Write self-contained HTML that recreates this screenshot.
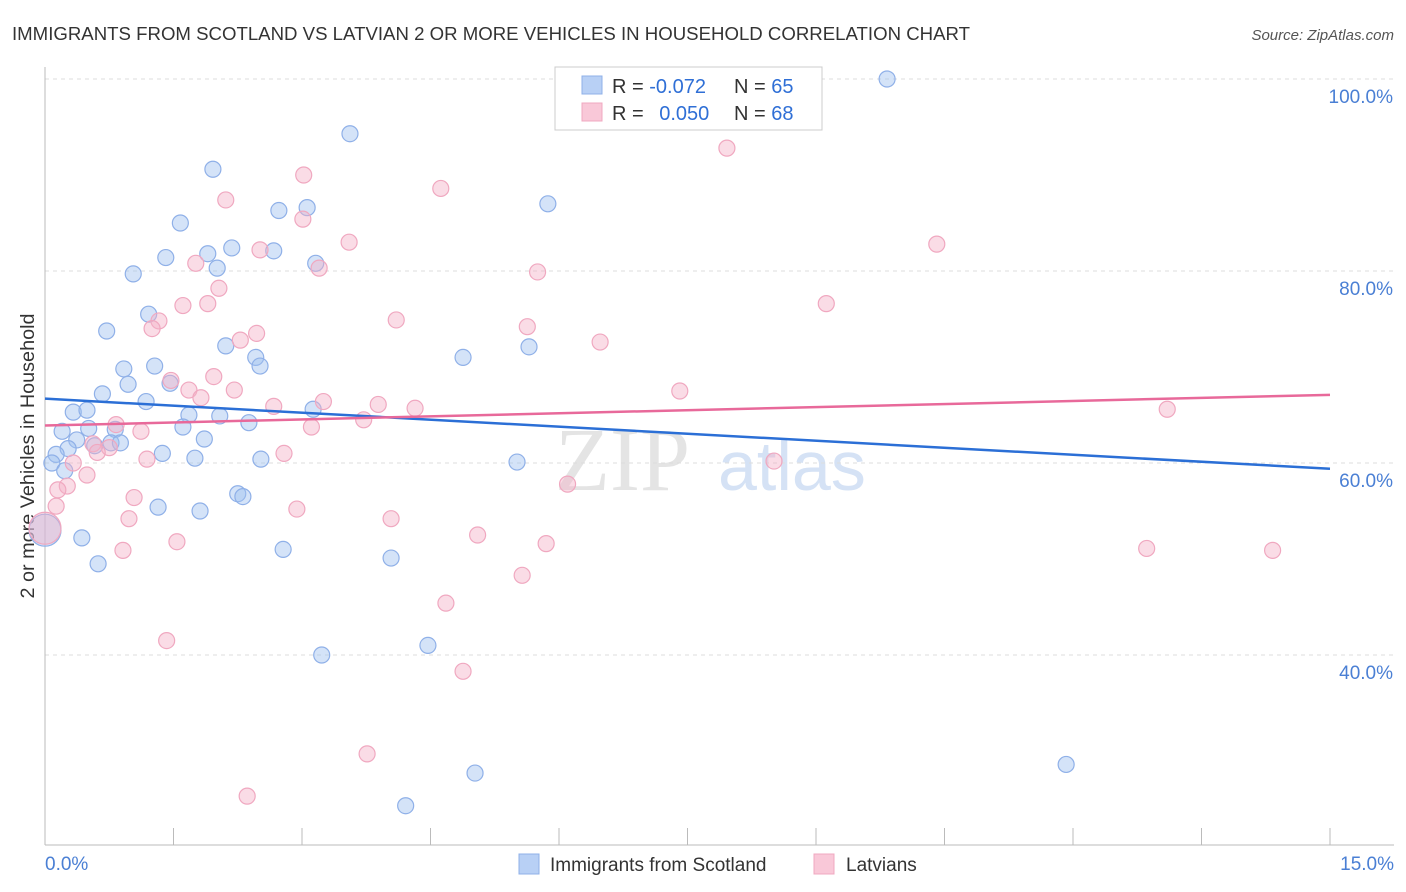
<!DOCTYPE html>
<html><head><meta charset="utf-8">
<style>
body{margin:0;background:#fff;font-family:"Liberation Sans",sans-serif;}
#wrap{position:relative;width:1406px;height:892px;overflow:hidden;}
</style></head>
<body>
<div id="wrap">
<svg id="svg" width="1406" height="892" xmlns="http://www.w3.org/2000/svg">
<text x="12" y="40" font-size="18" fill="#333" textLength="958" lengthAdjust="spacingAndGlyphs">IMMIGRANTS FROM SCOTLAND VS LATVIAN 2 OR MORE VEHICLES IN HOUSEHOLD CORRELATION CHART</text>
<text x="1394" y="40" font-size="15" fill="#555" text-anchor="end" font-style="italic">Source: ZipAtlas.com</text>
<text x="34" y="456" font-size="19" fill="#333" text-anchor="middle" textLength="285" lengthAdjust="spacingAndGlyphs" transform="rotate(-90 34 456)">2 or more Vehicles in Household</text>
<text x="555" y="490" font-size="90" fill="#e4e4e4" font-family="Liberation Serif,serif">ZIP</text>
<text x="718" y="490" font-size="70" fill="#d5e2f5">atlas</text>
<g id="grid"></g><g id="ticks"></g><g id="pts"></g><g id="lines"></g>
<g>
<rect x="555" y="67" width="267" height="63" fill="#fff" stroke="#ccc"/>
<rect x="582" y="76" width="20" height="18" fill="#b8d0f5" stroke="#8fb0e8"/>
<rect x="582" y="103" width="20" height="18" fill="#f9c8d8" stroke="#f0a8c0"/>
<text x="612" y="93" font-size="20" fill="#333">R = <tspan fill="#2f6fd6">-0.072</tspan></text>
<text x="734" y="93" font-size="20" fill="#333">N = <tspan fill="#2f6fd6">65</tspan></text>
<text x="612" y="120" font-size="20" fill="#333">R = <tspan fill="#2f6fd6" dx="10">0.050</tspan></text>
<text x="734" y="120" font-size="20" fill="#333">N = <tspan fill="#2f6fd6">68</tspan></text>
</g>
<g>
<rect x="519" y="854" width="20" height="20" fill="#b8d0f5" stroke="#8fb0e8"/>
<text x="550" y="871" font-size="19" fill="#333">Immigrants from Scotland</text>
<rect x="814" y="854" width="20" height="20" fill="#f9c8d8" stroke="#f0a8c0"/>
<text x="846" y="871" font-size="19" fill="#333">Latvians</text>
</g>
</svg>
</div>
<script>
const blueX=[9.83,3.56,1.96,5.87,1.58,2.73,3.06,1.41,1.90,2.18,2.67,3.16,2.01,1.03,1.21,0.72,2.11,2.46,2.51,4.88,5.65,0.92,1.28,1.46,0.97,0.67,1.18,0.33,0.49,3.13,1.68,2.04,2.38,1.61,0.20,0.51,0.82,1.86,0.37,0.77,0.88,0.58,0.27,0.13,1.37,1.75,2.52,0.08,0.23,5.51,2.25,2.31,1.32,1.81,0.43,2.78,4.04,0.62,3.23,4.47,5.02,4.21,11.92,0];
const blueY=[100,94.3,90.6,87.0,85.0,86.3,86.6,81.4,81.8,82.4,82.1,80.8,80.3,79.7,75.5,73.75,72.2,71.0,70.1,71.0,72.1,69.8,70.1,68.3,68.2,67.2,66.4,65.3,65.5,65.6,65.0,64.9,64.2,63.75,63.3,63.6,63.5,62.5,62.4,62.1,62.1,61.8,61.5,60.9,61.0,60.5,60.4,60.0,59.2,60.1,56.8,56.5,55.4,55.0,52.2,51.0,50.1,49.5,40.0,41.0,27.7,24.3,28.6,53.0];
const pinkX=[7.96,4.62,3.02,2.11,3.01,3.55,10.41,2.51,1.76,3.20,5.75,2.03,1.90,1.61,9.12,1.33,1.25,4.10,5.63,2.28,2.47,6.48,1.47,1.97,1.68,2.21,7.41,1.82,3.25,3.89,2.67,4.32,13.10,3.72,0.83,3.11,1.12,0.56,0.75,0.61,2.79,1.19,0.33,8.51,0.49,0.26,6.10,0.15,1.04,0.13,2.94,0.98,4.04,5.05,5.85,1.54,0.91,12.86,14.33,5.57,4.68,1.42,4.88,3.76,2.36,0];
const pinkY=[92.8,88.6,90.0,87.4,85.4,83.0,82.8,82.2,80.8,80.3,79.9,78.2,76.6,76.4,76.6,74.8,74.0,74.9,74.2,72.8,73.5,72.6,68.6,69.0,67.6,67.6,67.5,66.8,66.4,66.1,65.9,65.7,65.6,64.5,64.0,63.75,63.3,62.0,61.6,61.1,61.0,60.4,60.0,60.2,58.75,57.6,57.8,57.2,56.4,55.5,55.2,54.2,54.2,52.5,51.6,51.8,50.9,51.1,50.9,48.3,45.4,41.5,38.3,29.7,25.3,53.2];
const blueTrend=[66.7,59.4];
const pinkTrend=[63.9,67.1];
const yTicks=[100,80,60,40];
const xTickLabels=["0.0%","15.0%"];
const NS="http://www.w3.org/2000/svg";
const X=v=>45+v*(1285/15), Y=v=>79+(100-v)*9.6;
function mk(tag,attrs,parent){const e=document.createElementNS(NS,tag);for(const k in attrs)e.setAttribute(k,attrs[k]);document.getElementById(parent).appendChild(e);return e;}
yTicks.forEach(t=>{
 const l=mk('line',{x1:45,x2:1394,y1:Y(t),y2:Y(t),stroke:'#ddd','stroke-dasharray':'4,4'},'grid');
 
 
 const tx=mk('text',{x:1393,y:Y(t)+24,'font-size':19,fill:'#4a7fd4','text-anchor':'end'},'ticks');tx.textContent=t.toFixed(1)+'%';
 
 
});
mk('line',{x1:45,x2:45,y1:67,y2:845,stroke:'#bbb'},'grid');
mk('line',{x1:45,x2:1394,y1:845,y2:845,stroke:'#bbb'},'grid');
for(let i=0;i<=10;i++){mk('line',{x1:X(i*1.5),x2:X(i*1.5),y1:828,y2:845,stroke:'#bbb'},'grid');}
const a=mk('text',{x:45,y:870,'font-size':19,fill:'#4a7fd4'},'ticks');a.textContent=xTickLabels[0];


const b=mk('text',{x:1394,y:870,'font-size':19,fill:'#4a7fd4','text-anchor':'end'},'ticks');b.textContent=xTickLabels[1];


function pts(xs,ys,fill,stroke,name){xs.forEach((x,i)=>{const big=(x===0);const c=mk('circle',{cx:X(x),cy:Y(ys[i]),r:big?16:8,fill:fill,stroke:stroke,'stroke-width':1.2},'pts');
 
 });}
pts(blueX,blueY,'rgba(160,192,240,0.45)','#8fb0e8','point-scotland');
pts(pinkX,pinkY,'rgba(245,178,200,0.45)','#f0a8c0','point-latvians');
const bl=mk('line',{x1:X(0),y1:Y(blueTrend[0]),x2:X(15),y2:Y(blueTrend[1]),stroke:'#2b6fd6','stroke-width':2.5},'lines');


const pl=mk('line',{x1:X(0),y1:Y(pinkTrend[0]),x2:X(15),y2:Y(pinkTrend[1]),stroke:'#e8699a','stroke-width':2.5},'lines');


</script>
</body></html>
